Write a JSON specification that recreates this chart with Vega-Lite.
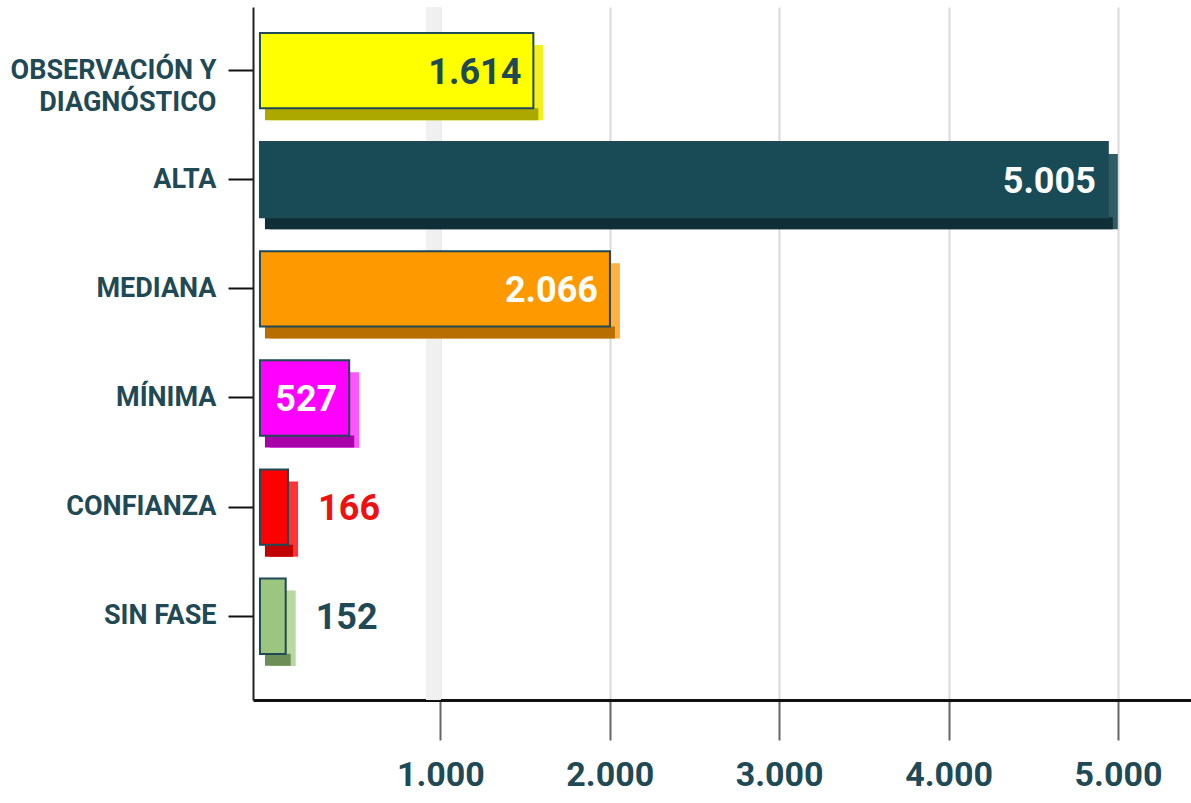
{
  "$schema": "https://vega.github.io/schema/vega-lite/v6.json",
  "width": 938,
  "height": 693,
  "autosize": "none",
  "padding": {"left": 253, "top": 7, "right": 0, "bottom": 103},
  "background": "white",
  "config": {
    "view": {"stroke": null},
    "locale": {"number": {"decimal": ",", "thousands": ".", "grouping": [3], "currency": ["", ""]}},
    "font": "Roboto"
  },
  "data": {
    "values": [
      {"fase": "OBSERVACIÓN Y DIAGNÓSTICO", "valor": 1614},
      {"fase": "ALTA", "valor": 5005},
      {"fase": "MEDIANA", "valor": 2066},
      {"fase": "MÍNIMA", "valor": 527},
      {"fase": "CONFIANZA", "valor": 166},
      {"fase": "SIN FASE", "valor": 152}
    ]
  },
  "resolve": {"scale": {"color": "independent"}},
  "layer": [
    {
      "mark": {"type": "rule", "color": "#f0f0f0", "strokeWidth": 14, "xOffset": 4},
      "encoding": {
        "x": {"datum": 1000, "type": "quantitative"}
      }
    },
    {
      "resolve": {"scale": {"color": "independent"}},
      "encoding": {
        "y": {"field": "fase", "type": "nominal", "sort": null,
          "scale": {"paddingInner": 0.31, "paddingOuter": 0.33, "align": 0.36},
          "axis": {"title": null, "domainColor": "#222222", "domainWidth": 2, "tickColor": "#111111", "tickSize": 25, "tickWidth": 2,
                   "labelPadding": 12, "labelFontSize": 27, "labelFontWeight": "bold", "labelColor": "#1f4a55", "labelLineHeight": 32, "labelLimit": 400,
                   "labelExpr": "datum.label == 'OBSERVACIÓN Y DIAGNÓSTICO' ? ['OBSERVACIÓN Y', 'DIAGNÓSTICO'] : datum.label"}},
        "x": {"field": "valor", "type": "quantitative",
          "scale": {"domain": [-41, 5496], "nice": false, "zero": false},
          "axis": {"title": null, "values": [1000, 2000, 3000, 4000, 5000], "format": ",d", "grid": true, "gridColor": "#dadada", "gridWidth": 2,
                   "tickOffset": 11, "tickColor": "#666666", "tickSize": 40, "tickWidth": 2, "domainColor": "#111111", "domainWidth": 3,
                   "labelFontSize": 34, "labelFontWeight": "bold", "labelColor": "#1f4a55", "labelPadding": 18}}
      },
      "layer": [
        {
          "mark": {"type": "bar", "xOffset": 10, "yOffset": 12},
          "encoding": {
            "color": {"field": "fase", "type": "nominal", "legend": null,
              "scale": {"domain": ["OBSERVACIÓN Y DIAGNÓSTICO", "ALTA", "MEDIANA", "MÍNIMA", "CONFIANZA", "SIN FASE"],
                        "range": ["#f4f01c", "#2e5d68", "#ffb040", "#ff55ff", "#ff3535", "#b8d8a0"]}}
          }
        },
        {
          "mark": {"type": "bar", "height": 12, "xOffset": 5, "yOffset": 43.6},
          "encoding": {
            "color": {"field": "fase", "type": "nominal", "legend": null,
              "scale": {"domain": ["OBSERVACIÓN Y DIAGNÓSTICO", "ALTA", "MEDIANA", "MÍNIMA", "CONFIANZA", "SIN FASE"],
                        "range": ["#aca800", "#0f2e36", "#b86e00", "#a800a8", "#c00000", "#6e8e58"]}}
          }
        },
        {
          "mark": {"type": "bar", "stroke": "#1f4a55", "strokeWidth": 2},
          "encoding": {
            "color": {"field": "fase", "type": "nominal", "legend": null,
              "scale": {"domain": ["OBSERVACIÓN Y DIAGNÓSTICO", "ALTA", "MEDIANA", "MÍNIMA", "CONFIANZA", "SIN FASE"],
                        "range": ["#ffff00", "#194b57", "#ff9900", "#ff00ff", "#ff0000", "#9cc67f"]}}
          }
        },
        {
          "transform": [{"filter": "datum.valor > 400"}],
          "mark": {"type": "text", "align": "right", "baseline": "middle", "dx": -12, "dy": 2, "fontSize": 36, "fontWeight": "bold"},
          "encoding": {
            "text": {"field": "valor", "type": "quantitative", "format": ",d"},
            "color": {"field": "fase", "type": "nominal", "legend": null,
              "scale": {"domain": ["OBSERVACIÓN Y DIAGNÓSTICO", "ALTA", "MEDIANA", "MÍNIMA"],
                        "range": ["#1f4a55", "#ffffff", "#ffffff", "#ffffff"]}}
          }
        },
        {
          "transform": [{"filter": "datum.valor <= 400"}],
          "mark": {"type": "text", "align": "left", "baseline": "middle", "dx": 30, "dy": 2, "fontSize": 36, "fontWeight": "bold"},
          "encoding": {
            "text": {"field": "valor", "type": "quantitative", "format": ",d"},
            "color": {"field": "fase", "type": "nominal", "legend": null,
              "scale": {"domain": ["CONFIANZA", "SIN FASE"], "range": ["#ee1111", "#1f4a55"]}}
          }
        }
      ]
    }
  ]
}
